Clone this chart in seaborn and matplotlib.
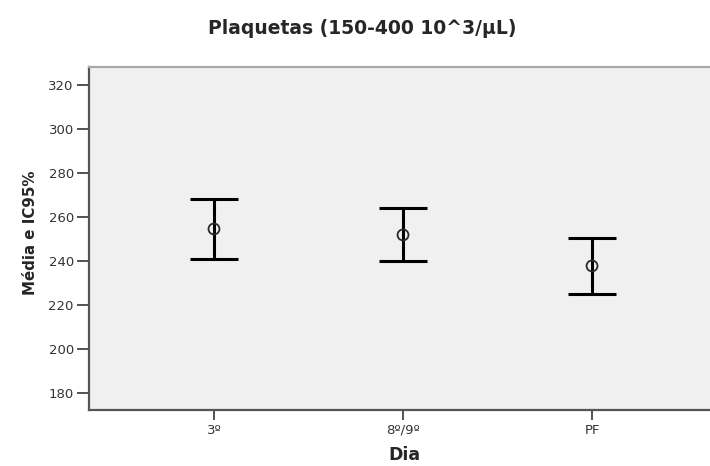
import matplotlib
matplotlib.use("Agg")
import matplotlib.pyplot as plt
import seaborn as sns
import pandas as pd

dias = ["3º", "8º/9º", "PF"]
media = [254.5, 251.8, 237.7]
ic_inf = [240.9, 240.0, 225.1]
ic_sup = [268.2, 264.0, 250.3]

df = pd.DataFrame({"Dia": dias, "media": media, "inf": ic_inf, "sup": ic_sup})

sns.set_style("white")
plt.rcParams["font.family"] = ["DejaVu Sans"]

fig = plt.figure(figsize=(7.1, 4.66), dpi=100)
ax = fig.add_axes([0.1254, 0.1208, 0.8746, 0.7348])
ax.set_facecolor("#f0f0f0")

x = list(range(len(df)))
ax.errorbar(x, df["media"],
            yerr=[df["media"] - df["inf"], df["sup"] - df["media"]],
            fmt="none", ecolor="black", elinewidth=2.2,
            capsize=17.3, capthick=2.2, zorder=2)
sns.scatterplot(x=x, y=df["media"], ax=ax, marker="o", s=62,
                facecolor="none", edgecolor="#2a2a2a", linewidth=1.3,
                zorder=3)

ax.set_xticks(x)
ax.set_xticklabels(dias)
ax.set_xlim(-0.661, 2.624)
ax.set_ylim(172.3, 328.05)
ax.set_yticks(range(180, 321, 20))

ax.tick_params(axis="y", direction="out", length=9, width=1.3,
               color="#444444", labelsize=9.5, pad=2, labelcolor="#333333",
               left=True)
ax.tick_params(axis="x", direction="out", length=7, width=1.3,
               color="#444444", labelsize=9.5, pad=3, labelcolor="#333333",
               bottom=True)

for s in ["left", "bottom"]:
    ax.spines[s].set_color("#555555")
    ax.spines[s].set_linewidth(1.6)
ax.spines["top"].set_color("#a8a8a8")
ax.spines["top"].set_linewidth(1.6)
ax.spines["right"].set_visible(False)

ax.set_xlabel("Dia", fontsize=12.5, fontweight="bold", va="baseline")
ax.xaxis.set_label_coords(0.508, -0.148)
ax.set_ylabel("Média e IC95%", fontsize=10.8, fontweight="bold")
ax.yaxis.set_label_coords(-0.082, 0.5175)
fig.text(0.5106, 0.927, "Plaquetas (150-400 10^3/μL)", fontsize=13.5,
         fontweight="bold", ha="center", va="baseline")

fig.savefig("out.png", dpi=100)
